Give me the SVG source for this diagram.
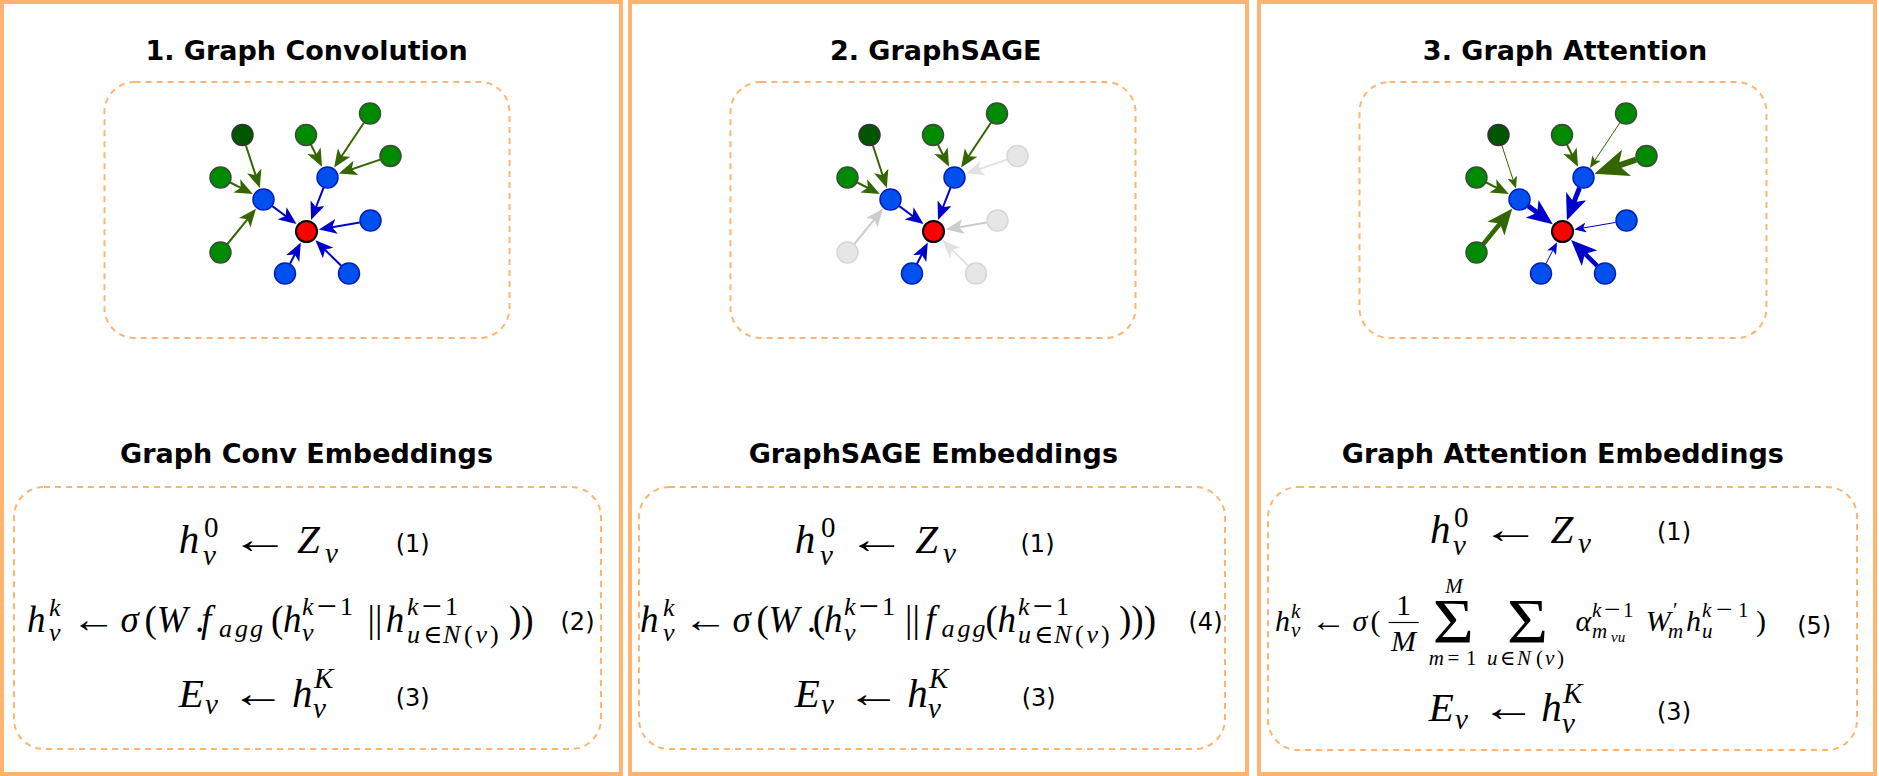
<svg xmlns="http://www.w3.org/2000/svg" width="1879" height="776" viewBox="0 0 1879 776">
<style>
.frame{fill:#fff;stroke:#FFB570;stroke-width:4}
.dash{fill:none;stroke:#FFB570;stroke-width:2;stroke-dasharray:6 5}
.title{font-family:"DejaVu Sans",Verdana,sans-serif;font-weight:bold;font-size:27px;text-anchor:middle;fill:#000}
.g{fill:#008A00;stroke:#3A4A3A;stroke-width:1.5}
.dg{fill:#005700;stroke:#333;stroke-width:1.5}
.b{fill:#0050EF;stroke:#001DBC;stroke-width:1.5}
.r{fill:#FF0000;stroke:#000;stroke-width:2}
.x{fill:#E6E6E6;stroke:#D6D6D6;stroke-width:1.5}
.eg{fill:none;stroke:#336600;stroke-width:2}
.eb{fill:none;stroke:#0000CC;stroke-width:2}
.ex{fill:none;stroke:#CCCCCC;stroke-width:2}
.ex2{fill:none;stroke:#E2E2E2;stroke-width:2}
.w1{stroke-width:1}
.w4{stroke-width:4.5}
.w5{stroke-width:5}
.w6{stroke-width:6}
.mi{font-family:"Liberation Serif","DejaVu Serif",serif;font-style:italic;fill:#000}
.mr{font-family:"Liberation Serif","DejaVu Serif",serif;font-style:normal;fill:#000}
.ar{font-family:"Liberation Serif","DejaVu Serif",serif;font-style:normal;fill:#000;text-anchor:middle}
.en{font-family:"DejaVu Sans",Verdana,sans-serif;font-size:24px;fill:#000}
</style>
<defs>
<marker id="mg" markerUnits="userSpaceOnUse" viewBox="0 0 18 15" markerWidth="18" markerHeight="15" refX="9" refY="7.5" orient="auto"><path d="M0,0L18,7.5L0,15L4.5,7.5Z" fill="#336600"/></marker>
<marker id="mb" markerUnits="userSpaceOnUse" viewBox="0 0 18 15" markerWidth="18" markerHeight="15" refX="9" refY="7.5" orient="auto"><path d="M0,0L18,7.5L0,15L4.5,7.5Z" fill="#0000CC"/></marker>
<marker id="mx" markerUnits="userSpaceOnUse" viewBox="0 0 18 15" markerWidth="18" markerHeight="15" refX="9" refY="7.5" orient="auto"><path d="M0,0L18,7.5L0,15L4.5,7.5Z" fill="#CCCCCC"/></marker>
<marker id="mx2" markerUnits="userSpaceOnUse" viewBox="0 0 18 15" markerWidth="18" markerHeight="15" refX="9" refY="7.5" orient="auto"><path d="M0,0L18,7.5L0,15L4.5,7.5Z" fill="#E2E2E2"/></marker>
<marker id="mgs" markerUnits="userSpaceOnUse" viewBox="0 0 12 10" markerWidth="12" markerHeight="10" refX="6" refY="5" orient="auto"><path d="M0,0L12,5L0,10L3,5Z" fill="#336600"/></marker>
<marker id="mbs" markerUnits="userSpaceOnUse" viewBox="0 0 12 10" markerWidth="12" markerHeight="10" refX="6" refY="5" orient="auto"><path d="M0,0L12,5L0,10L3,5Z" fill="#0000CC"/></marker>
<marker id="mgl" markerUnits="userSpaceOnUse" viewBox="0 0 26 22" markerWidth="26" markerHeight="22" refX="13" refY="11" orient="auto"><path d="M0,0L26,11L0,22L6.5,11Z" fill="#336600"/></marker>
<marker id="mbl" markerUnits="userSpaceOnUse" viewBox="0 0 26 22" markerWidth="26" markerHeight="22" refX="13" refY="11" orient="auto"><path d="M0,0L26,11L0,22L6.5,11Z" fill="#0000CC"/></marker>
<marker id="mgxl" markerUnits="userSpaceOnUse" viewBox="0 0 34 28" markerWidth="34" markerHeight="28" refX="17" refY="14" orient="auto"><path d="M0,0L34,14L0,28L8.5,14Z" fill="#336600"/></marker>
</defs>

<g id="panel1"><rect class="frame" x="2" y="2" width="619" height="772"/></g>
<g id="panel2"><rect class="frame" x="630" y="2" width="617" height="772"/></g>
<g id="panel3"><rect class="frame" x="1259" y="2" width="616" height="772"/></g>

<g id="graph-box-1"><rect class="dash" x="104.5" y="82" width="405" height="256" rx="30"/></g>
<g id="graph-box-2"><rect class="dash" x="730.5" y="82" width="405" height="256" rx="30"/></g>
<g id="graph-box-3"><rect class="dash" x="1359.5" y="82" width="407" height="256" rx="30"/></g>
<g id="eq-box-1"><rect class="dash" x="14" y="487" width="587" height="262" rx="30"/></g>
<g id="eq-box-2"><rect class="dash" x="639" y="487" width="586" height="262" rx="30"/></g>
<g id="eq-box-3"><rect class="dash" x="1268" y="487" width="589" height="263" rx="30"/></g>

<g id="titles">
<text class="title" x="306.5" y="60">1. Graph Convolution</text>
<text class="title" x="935.7" y="60">2. GraphSAGE</text>
<text class="title" x="1565" y="60">3. Graph Attention</text>
<text class="title" x="306.5" y="463">Graph Conv Embeddings</text>
<text class="title" x="933.3" y="463">GraphSAGE Embeddings</text>
<text class="title" x="1562.8" y="463">Graph Attention Embeddings</text>
</g>

<!-- Panel 1 graph -->
<g id="p1-graph">
<g id="p1-connectors">
<path class="eg" marker-end="url(#mg)" d="M245.9,145.5L257,179.5"/>
<path class="eg" marker-end="url(#mg)" d="M230.3,182.5L244.8,189.9"/>
<path class="eg" marker-end="url(#mg)" d="M227.4,244L250.3,215.8"/>
<path class="eg" marker-end="url(#mg)" d="M311,144.8L318,158.8"/>
<path class="eg" marker-end="url(#mg)" d="M363.9,122.7L339.1,160"/>
<path class="eg" marker-end="url(#mg)" d="M380.1,159.6L347.4,170.7"/>
<path class="eb" marker-end="url(#mb)" d="M272.3,206.1L289.3,218.7"/>
<path class="eb" marker-end="url(#mb)" d="M323.5,187.8L314.3,211.5"/>
<path class="eb" marker-end="url(#mb)" d="M359.7,222.4L327.7,227.9"/>
<path class="eb" marker-end="url(#mb)" d="M290,263.7L296.7,250.6"/>
<path class="eb" marker-end="url(#mb)" d="M341.2,265.8L321.8,246.6"/>
</g>
<g id="p1-dg"><circle class="dg" cx="242.5" cy="135" r="10.5"/></g>
<g id="p1-g1"><circle class="g" cx="220.5" cy="177.5" r="10.5"/></g>
<g id="p1-g2"><circle class="g" cx="220.5" cy="252.5" r="10.5"/></g>
<g id="p1-g3"><circle class="g" cx="306" cy="135" r="10.5"/></g>
<g id="p1-g4"><circle class="g" cx="370" cy="113.5" r="10.5"/></g>
<g id="p1-g5"><circle class="g" cx="390.5" cy="156" r="10.5"/></g>
<g id="p1-b1"><circle class="b" cx="263.5" cy="199.5" r="10.5"/></g>
<g id="p1-b2"><circle class="b" cx="327.5" cy="177.5" r="10.5"/></g>
<g id="p1-b3"><circle class="b" cx="370.5" cy="220.5" r="10.5"/></g>
<g id="p1-b4"><circle class="b" cx="285" cy="273.5" r="10.5"/></g>
<g id="p1-b5"><circle class="b" cx="349" cy="273.5" r="10.5"/></g>
<g id="p1-r"><circle class="r" cx="306.5" cy="231.5" r="10.5"/></g>
</g>

<!-- Panel 2 graph -->
<g id="p2-graph" transform="translate(627,0)">
<g id="p2-connectors">
<path class="eg" marker-end="url(#mg)" d="M245.9,145.5L257,179.5"/>
<path class="eg" marker-end="url(#mg)" d="M230.3,182.5L244.8,189.9"/>
<path class="ex" marker-end="url(#mx)" d="M227.4,244L250.3,215.8"/>
<path class="eg" marker-end="url(#mg)" d="M311,144.8L318,158.8"/>
<path class="eg" marker-end="url(#mg)" d="M363.9,122.7L339.1,160"/>
<path class="ex2" marker-end="url(#mx2)" d="M380.1,159.6L347.4,170.7"/>
<path class="eb" marker-end="url(#mb)" d="M272.3,206.1L289.3,218.7"/>
<path class="eb" marker-end="url(#mb)" d="M323.5,187.8L314.3,211.5"/>
<path class="ex" marker-end="url(#mx)" d="M359.7,222.4L327.7,227.9"/>
<path class="eb" marker-end="url(#mb)" d="M290,263.7L296.7,250.6"/>
<path class="ex2" marker-end="url(#mx2)" d="M341.2,265.8L321.8,246.6"/>
</g>
<g id="p2-dg"><circle class="dg" cx="242.5" cy="135" r="10.5"/></g>
<g id="p2-g1"><circle class="g" cx="220.5" cy="177.5" r="10.5"/></g>
<g id="p2-g2"><circle class="x" cx="220.5" cy="252.5" r="10.5"/></g>
<g id="p2-g3"><circle class="g" cx="306" cy="135" r="10.5"/></g>
<g id="p2-g4"><circle class="g" cx="370" cy="113.5" r="10.5"/></g>
<g id="p2-g5"><circle class="x" cx="390.5" cy="156" r="10.5"/></g>
<g id="p2-b1"><circle class="b" cx="263.5" cy="199.5" r="10.5"/></g>
<g id="p2-b2"><circle class="b" cx="327.5" cy="177.5" r="10.5"/></g>
<g id="p2-b3"><circle class="x" cx="370.5" cy="220.5" r="10.5"/></g>
<g id="p2-b4"><circle class="b" cx="285" cy="273.5" r="10.5"/></g>
<g id="p2-b5"><circle class="x" cx="349" cy="273.5" r="10.5"/></g>
<g id="p2-r"><circle class="r" cx="306.5" cy="231.5" r="10.5"/></g>
</g>

<!-- Panel 3 graph -->
<g id="p3-graph" transform="translate(1256,0)">
<g id="p3-connectors">
<path class="eg w1" marker-end="url(#mgs)" d="M245.9,145.5L258.1,182.9"/>
<path class="eg" marker-end="url(#mg)" d="M230.3,182.5L244.8,189.9"/>
<path class="eg w4" marker-end="url(#mgl)" d="M227.4,244L248.1,218.5"/>
<path class="eg" marker-end="url(#mg)" d="M311,144.8L318,158.8"/>
<path class="eg w1" marker-end="url(#mgs)" d="M363.9,122.7L337.2,162.9"/>
<path class="eg w6" marker-end="url(#mgxl)" d="M380.1,159.6L354.5,168.3"/>
<path class="eb w5" marker-end="url(#mbl)" d="M272.3,206.1L286.4,216.6"/>
<path class="eb w5" marker-end="url(#mbl)" d="M323.5,187.8L315.6,208.2"/>
<path class="eb w1" marker-end="url(#mbs)" d="M359.7,222.4L324.2,228.5"/>
<path class="eb w1" marker-end="url(#mbs)" d="M290,263.7L298.3,247.5"/>
<path class="eb w4" marker-end="url(#mbl)" d="M341.2,265.8L324.3,249.1"/>
</g>
<g id="p3-dg"><circle class="dg" cx="242.5" cy="135" r="10.5"/></g>
<g id="p3-g1"><circle class="g" cx="220.5" cy="177.5" r="10.5"/></g>
<g id="p3-g2"><circle class="g" cx="220.5" cy="252.5" r="10.5"/></g>
<g id="p3-g3"><circle class="g" cx="306" cy="135" r="10.5"/></g>
<g id="p3-g4"><circle class="g" cx="370" cy="113.5" r="10.5"/></g>
<g id="p3-g5"><circle class="g" cx="390.5" cy="156" r="10.5"/></g>
<g id="p3-b1"><circle class="b" cx="263.5" cy="199.5" r="10.5"/></g>
<g id="p3-b2"><circle class="b" cx="327.5" cy="177.5" r="10.5"/></g>
<g id="p3-b3"><circle class="b" cx="370.5" cy="220.5" r="10.5"/></g>
<g id="p3-b4"><circle class="b" cx="285" cy="273.5" r="10.5"/></g>
<g id="p3-b5"><circle class="b" cx="349" cy="273.5" r="10.5"/></g>
<g id="p3-r"><circle class="r" cx="306.5" cy="231.5" r="10.5"/></g>
</g>

<!-- Panel 1 equations -->
<g id="p1-eqs">
<text class="mi" font-size="41"><tspan x="178.8" y="553">h</tspan><tspan class="mr" x="204" y="537" font-size="29">0</tspan><tspan x="203" y="565" font-size="29">v</tspan><tspan x="297" y="553">Z</tspan><tspan x="325" y="563" font-size="29">v</tspan></text>
<text class="ar" font-size="41" transform="translate(260.5,553) scale(1.45,1)">←</text>
<text class="en" x="395.7" y="552">(1)</text>
<text class="mi" font-size="37"><tspan x="27" y="631.7">h</tspan><tspan x="49" y="616" font-size="26">k</tspan><tspan x="49" y="641" font-size="26">v</tspan><tspan x="120.5" y="631.7">σ</tspan><tspan class="mr" x="144.6" y="631.7">(</tspan><tspan x="156.7" y="631.7">W</tspan><tspan class="mr" x="195" y="631.7">.</tspan><tspan x="201" y="631.7">f</tspan><tspan x="219" y="637" font-size="26">a</tspan><tspan x="235" y="637" font-size="26">g</tspan><tspan x="250" y="637" font-size="26">g</tspan><tspan class="mr" x="271" y="631.7">(</tspan><tspan x="283" y="631.7">h</tspan><tspan x="302" y="615" font-size="26">k</tspan><tspan class="mr" x="316.5" y="617.5" font-size="36">−</tspan><tspan class="mr" x="340" y="615" font-size="26">1</tspan><tspan x="302" y="641" font-size="26">v</tspan><tspan class="mr" x="367.6" y="631.7">||</tspan><tspan x="385.7" y="631.7">h</tspan><tspan x="407" y="615" font-size="26">k</tspan><tspan class="mr" x="421.5" y="617.5" font-size="36">−</tspan><tspan class="mr" x="445" y="615" font-size="26">1</tspan><tspan x="407" y="643" font-size="26">u</tspan><tspan class="mr" x="423" y="643" font-size="26">∈</tspan><tspan x="443" y="643" font-size="26">N</tspan><tspan class="mr" x="464" y="643" font-size="26">(</tspan><tspan x="475.5" y="643" font-size="26">v</tspan><tspan class="mr" x="490" y="643" font-size="26">)</tspan><tspan class="mr" x="509" y="631.7">))</tspan></text>
<text class="ar" font-size="37" transform="translate(93.3,631.7) scale(1.21,1)">←</text>
<text class="en" x="560.5" y="630">(2)</text>
<text class="mi" font-size="41"><tspan x="178.8" y="706.7">E</tspan><tspan x="205" y="714" font-size="29">v</tspan><tspan x="292" y="706.7">h</tspan><tspan x="314" y="688" font-size="29">K</tspan><tspan x="313" y="718" font-size="29">v</tspan></text>
<text class="ar" font-size="41" transform="translate(258.5,706.7) scale(1.35,1)">←</text>
<text class="en" x="395.7" y="706">(3)</text>
</g>

<!-- Panel 2 equations -->
<g id="p2-eqs">
<text class="mi" font-size="41"><tspan x="794.7" y="553">h</tspan><tspan class="mr" x="821" y="537" font-size="29">0</tspan><tspan x="820" y="565" font-size="29">v</tspan><tspan x="915.3" y="553">Z</tspan><tspan x="943" y="563" font-size="29">v</tspan></text>
<text class="ar" font-size="41" transform="translate(877,553) scale(1.45,1)">←</text>
<text class="en" x="1020.5" y="552">(1)</text>
<text class="mi" font-size="37"><tspan x="640" y="631.7">h</tspan><tspan x="663" y="616" font-size="26">k</tspan><tspan x="663" y="641" font-size="26">v</tspan><tspan x="732.4" y="631.7">σ</tspan><tspan class="mr" x="756.6" y="631.7">(</tspan><tspan x="768.6" y="631.7">W</tspan><tspan class="mr" x="806.8" y="631.7">.</tspan><tspan class="mr" x="812.8" y="631.7">(</tspan><tspan x="824" y="631.7">h</tspan><tspan x="844" y="615" font-size="26">k</tspan><tspan class="mr" x="858.5" y="617.5" font-size="36">−</tspan><tspan class="mr" x="882" y="615" font-size="26">1</tspan><tspan x="844" y="641" font-size="26">v</tspan><tspan class="mr" x="905" y="631.7">||</tspan><tspan x="925.3" y="631.7">f</tspan><tspan x="941.4" y="637" font-size="26">a</tspan><tspan x="957.4" y="637" font-size="26">g</tspan><tspan x="972.4" y="637" font-size="26">g</tspan><tspan class="mr" x="985.6" y="631.7">(</tspan><tspan x="997.6" y="631.7">h</tspan><tspan x="1018" y="615" font-size="26">k</tspan><tspan class="mr" x="1032.5" y="617.5" font-size="36">−</tspan><tspan class="mr" x="1056" y="615" font-size="26">1</tspan><tspan x="1018" y="643" font-size="26">u</tspan><tspan class="mr" x="1034" y="643" font-size="26">∈</tspan><tspan x="1054" y="643" font-size="26">N</tspan><tspan class="mr" x="1075" y="643" font-size="26">(</tspan><tspan x="1086.5" y="643" font-size="26">v</tspan><tspan class="mr" x="1101" y="643" font-size="26">)</tspan><tspan class="mr" x="1119" y="631.7">)))</tspan></text>
<text class="ar" font-size="37" transform="translate(705.4,631.7) scale(1.21,1)">←</text>
<text class="en" x="1188.5" y="630">(4)</text>
<text class="mi" font-size="41"><tspan x="794.7" y="706.7">E</tspan><tspan x="821" y="714" font-size="29">v</tspan><tspan x="907.2" y="706.7">h</tspan><tspan x="929" y="688" font-size="29">K</tspan><tspan x="928" y="718" font-size="29">v</tspan></text>
<text class="ar" font-size="41" transform="translate(874,706.7) scale(1.35,1)">←</text>
<text class="en" x="1021.7" y="706">(3)</text>
</g>

<!-- Panel 3 equations -->
<g id="p3-eqs">
<text class="mi" font-size="41"><tspan x="1430" y="543.3">h</tspan><tspan class="mr" x="1454" y="527" font-size="29">0</tspan><tspan x="1453" y="555" font-size="29">v</tspan><tspan x="1550.5" y="543.3">Z</tspan><tspan x="1578" y="553" font-size="29">v</tspan></text>
<text class="ar" font-size="41" transform="translate(1511,543.3) scale(1.45,1)">←</text>
<text class="en" x="1657" y="540">(1)</text>
<text class="mi" font-size="30"><tspan x="1275" y="631">h</tspan><tspan x="1291" y="618" font-size="21">k</tspan><tspan x="1291" y="637" font-size="21">v</tspan><tspan x="1352.4" y="631">σ</tspan><tspan class="mr" x="1370.5" y="631">(</tspan><tspan x="1575.4" y="631">α</tspan><tspan x="1592" y="617" font-size="21">k</tspan><tspan class="mr" x="1604" y="619" font-size="29">−</tspan><tspan class="mr" x="1623" y="617" font-size="21">1</tspan><tspan x="1592" y="638" font-size="21">m</tspan><tspan x="1611" y="642" font-size="15">vu</tspan><tspan x="1645.7" y="631">W</tspan><tspan class="mr" x="1673" y="617" font-size="21">′</tspan><tspan x="1668" y="638" font-size="21">m</tspan><tspan x="1686" y="631">h</tspan><tspan x="1702" y="617" font-size="21">k</tspan><tspan class="mr" x="1716" y="619" font-size="29">−</tspan><tspan class="mr" x="1738" y="617" font-size="21">1</tspan><tspan x="1702" y="638" font-size="21">u</tspan><tspan class="mr" x="1756" y="631">)</tspan></text>
<text class="ar" font-size="30" transform="translate(1328.4,631) scale(1.18,1)">←</text>
<text class="mr" font-size="30" x="1403.6" y="615" text-anchor="middle">1</text>
<line x1="1388.6" y1="622.5" x2="1418.7" y2="622.5" stroke="#000" stroke-width="1.2"/>
<text class="mi" font-size="30" x="1403.6" y="650.5" text-anchor="middle">M</text>
<text class="mr" font-size="63" transform="translate(1432.8,643.3) scale(1.12,1)">Σ</text>
<text class="mi" font-size="21" x="1454" y="593" text-anchor="middle">M</text>
<text class="mi" font-size="21"><tspan x="1428.8" y="665">m</tspan><tspan class="mr" x="1447.5" y="665">=</tspan><tspan class="mr" x="1466" y="665">1</tspan></text>
<text class="mr" font-size="63" transform="translate(1507,643.3) scale(1.12,1)">Σ</text>
<text class="mi" font-size="21"><tspan x="1487" y="665">u</tspan><tspan class="mr" x="1500" y="665">∈</tspan><tspan x="1517" y="665">N</tspan><tspan class="mr" x="1536" y="665">(</tspan><tspan x="1545" y="665">v</tspan><tspan class="mr" x="1557" y="665">)</tspan></text>
<text class="en" x="1797.2" y="634">(5)</text>
<text class="mi" font-size="41"><tspan x="1428.8" y="721">E</tspan><tspan x="1455" y="729" font-size="29">v</tspan><tspan x="1541.3" y="721">h</tspan><tspan x="1563" y="703" font-size="29">K</tspan><tspan x="1562" y="733" font-size="29">v</tspan></text>
<text class="ar" font-size="41" transform="translate(1509,721) scale(1.35,1)">←</text>
<text class="en" x="1657" y="720">(3)</text>
</g>
</svg>
